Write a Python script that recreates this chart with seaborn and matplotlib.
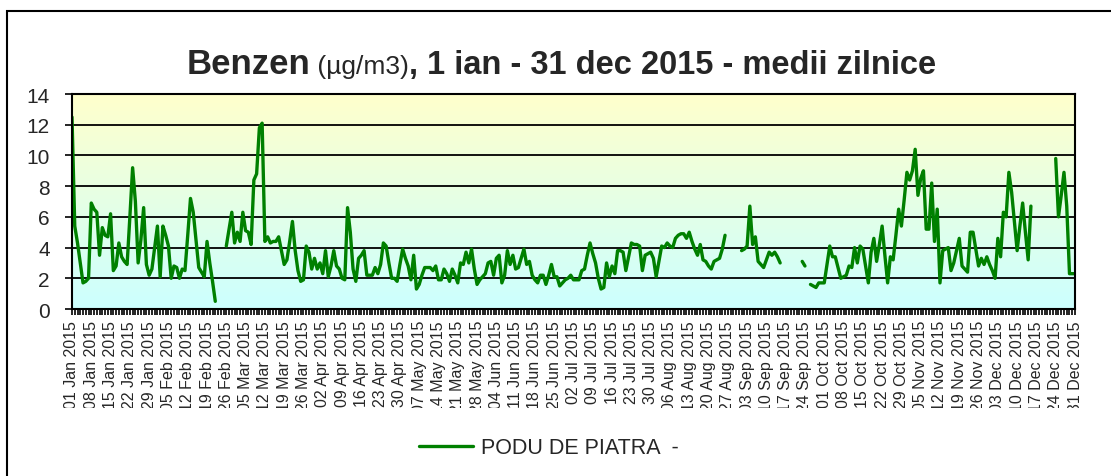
import numpy as np
import pandas as pd
import matplotlib
matplotlib.use("Agg")
import matplotlib.pyplot as plt
import seaborn as sns
from matplotlib.colors import LinearSegmentedColormap
from matplotlib.lines import Line2D
from matplotlib.patches import Rectangle
from matplotlib.transforms import Bbox, TransformedBbox

nan = np.nan

# daily means of benzene (ug/m3), one list per month, gaps = missing days
jan = [12.5, 5.4, 4.3, 3.0, 1.7, 1.8, 2.0, 6.9, 6.5, 6.3,
       3.5, 5.3, 4.8, 4.7, 6.2, 2.5, 2.8, 4.3, 3.4, 3.1,
       2.9, 6.0, 9.2, 7.0, 3.0, 4.5, 6.6, 2.9, 2.2, 2.6, 4.0]
feb = [5.4, 2.1, 5.4, 4.8, 4.1, 2.0, 2.8, 2.7, 2.0, 2.6,
       2.5, 4.8, 7.2, 6.3, 4.5, 2.7, 2.4, 2.1, 4.4, 3.0,
       1.8, 0.5, nan, nan, nan, 4.1, 5.2, 6.3]
mar = [4.3, 5.0, 4.4, 6.3, 5.1, 5.0, 4.2, 8.4, 8.8, 11.8,
       12.1, 4.4, 4.7, 4.3, 4.4, 4.4, 4.7, 3.8, 2.9, 3.2,
       4.4, 5.7, 3.8, 2.5, 1.8, 1.9, 4.1, 3.7, 2.6, 3.3, 2.6]
apr = [3.0, 2.3, 3.8, 2.1, 2.8, 3.8, 2.8, 2.6, 2.0, 1.9,
       6.6, 5.0, 2.6, 1.8, 3.3, 3.5, 3.8, 2.2, 2.2, 2.2,
       2.7, 2.3, 2.9, 4.3, 4.1, 3.0, 2.0, 2.0, 1.8, 2.9]
may = [3.9, 3.3, 2.8, 1.9, 3.5, 1.3, 1.6, 2.2, 2.7, 2.7,
       2.7, 2.5, 2.8, 1.9, 1.9, 2.6, 2.3, 1.8, 2.6, 2.2,
       1.7, 3.0, 2.9, 3.7, 3.0, 3.9, 2.6, 1.6, 1.9, 2.1, 2.3]
jun = [3.0, 3.1, 2.2, 3.3, 3.5, 1.7, 2.2, 3.8, 2.9, 3.5,
       2.6, 2.7, 3.3, 3.9, 2.9, 3.1, 2.2, 1.9, 1.7, 2.2,
       2.2, 1.6, 2.2, 2.9, 2.1, 2.1, 1.5, 1.7, 1.9, 2.0]
jul = [2.2, 1.9, 1.9, 1.9, 2.5, 2.6, 3.5, 4.3, 3.6, 3.0,
       2.0, 1.3, 1.4, 3.0, 2.1, 2.8, 2.3, 3.8, 3.8, 3.7,
       2.5, 3.4, 4.3, 4.2, 4.2, 4.1, 2.5, 3.5, 3.6, 3.7, 3.3]
aug = [2.1, 3.1, 4.1, 4.0, 4.3, 4.1, 4.0, 4.6, 4.8, 4.9,
       4.9, 4.6, 5.0, 4.4, 3.9, 3.5, 4.2, 3.2, 3.1, 2.8,
       2.6, 3.1, 3.2, 3.3, 3.9, 4.8, nan, nan, nan, nan, nan]
sep = [3.8, 3.9, 4.1, 6.7, 4.2, 4.7, 3.1, 2.9, 2.7, 3.2,
       3.7, 3.5, 3.7, 3.4, 3.0, nan, nan, nan, nan, nan,
       nan, nan, 3.1, 2.8, nan, 1.6, 1.5, 1.4, 1.7, 1.7]
oct_ = [1.7, 2.9, 4.1, 3.4, 3.4, 2.7, 2.0, 2.1, 2.2, 2.8,
        2.7, 4.0, 3.0, 4.1, 3.9, 2.8, 1.7, 3.7, 4.6, 3.1,
        4.2, 5.4, 3.5, 1.7, 3.4, 3.2, 4.8, 6.5, 5.4, 7.1, 8.9]
nov = [8.4, 9.0, 10.4, 7.4, 8.5, 9.0, 5.2, 5.2, 8.2, 4.4,
       6.5, 1.7, 3.8, 3.9, 4.0, 2.5, 3.0, 3.8, 4.6, 2.8,
       2.6, 2.4, 5.0, 5.0, 3.9, 2.8, 3.3, 2.9, 3.4, 2.9]
dec = [2.5, 2.0, 4.6, 3.4, 6.3, 6.0, 8.9, 7.6, 5.7, 3.8,
       5.4, 6.9, 5.0, 3.2, 6.7, nan, nan, nan, nan, nan,
       nan, nan, nan, 9.8, 6.0, 7.4, 8.9, 6.7, 2.3, 2.3, 2.3]

station = "PODU DE PIATRA  -"
title_parts = ["Benzen", " (µg/m3)", ", 1 ian - 31 dec 2015 - medii zilnice"]

dates = pd.date_range("2015-01-01", "2015-12-31", freq="D")
values = np.concatenate([jan, feb, mar, apr, may, jun, jul, aug, sep, oct_, nov, dec])

df = pd.DataFrame({"day": np.arange(len(dates)), "value": values})
df["segment"] = df["value"].isna().cumsum()
df = df.dropna()

week_pos = np.arange(0, len(dates), 7)
week_labels = [dates[i].strftime("%d %b %Y") for i in week_pos]

sns.set_theme(style="white")
plt.rcParams["font.family"] = ["Liberation Sans", "DejaVu Sans"]

W, H = 1111, 477
fig = plt.figure(figsize=(W / 100, H / 100), dpi=100)
ax = fig.add_axes([72 / W, 1 - 310 / H, (1075 - 72) / W, (310 - 95) / H])

# yellow -> cyan background of the plot area
cmap = LinearSegmentedColormap.from_list("bg", ["#CCFFFF", "#FFFFCC"])
ax.imshow(np.linspace(0, 1, 256).reshape(-1, 1), cmap=cmap, origin="lower",
          aspect="auto", extent=[0, len(dates) - 1, 0, 14], zorder=-1)

sns.lineplot(data=df, x="day", y="value", units="segment", estimator=None,
             color="#008000", lw=2.4, ax=ax, legend=False)

ax.set_xlim(0, len(dates) - 1)
ax.set_ylim(0, 14)
ax.set_yticks(range(0, 15, 2))
ax.set_xticks(week_pos)
ax.set_xticklabels(week_labels, rotation=90, fontsize=11.5)
ax.set_xticks(np.arange(len(dates)), minor=True)
ax.tick_params(axis="y", labelsize=15, length=5, width=1.2, color="black", pad=11, left=True)
ax.tick_params(axis="x", which="both", length=4, width=1.2, color="black", pad=4, bottom=True, direction="out")
ax.set_xlabel("")
ax.set_ylabel("")
ax.grid(axis="y", color="black", lw=1.3)
ax.grid(axis="x", visible=False)
ax.set_axisbelow(True)
for s in ax.spines.values():
    s.set_color("black")
    s.set_linewidth(1.5)

# labels are cut off at the bottom like in the original
clip = TransformedBbox(Bbox([[0, 1 - 409 / H], [1, 1]]), fig.transFigure)
for lbl in ax.get_xticklabels():
    lbl.set_clip_box(clip)
    lbl.set_clip_on(True)

# title made of bold / normal pieces
renderer = fig.canvas.get_renderer()
styles = [(25, "bold"), (19, "normal"), (23.5, "bold")]
texts, widths = [], []
for txt, (size, weight) in zip(title_parts, styles):
    t = fig.text(0, 1 - 74 / H, txt, fontsize=size, fontweight=weight, va="baseline")
    widths.append(t.get_window_extent(renderer).width)
    texts.append(t)
x = (W - sum(widths)) / 2 + 6
for t, w in zip(texts, widths):
    t.set_x(x / W)
    x += w

handle = Line2D([], [], color="#008000", lw=2.4)
fig.legend([handle], [station], loc="center", bbox_to_anchor=(549 / W, 1 - 449 / H),
           frameon=False, fontsize=15.5, handlelength=2.5, handletextpad=0.35)

fig.add_artist(Rectangle((7 / W, -0.1), 1.2, 1.1 - 12 / H, transform=fig.transFigure,
                         fill=False, ec="black", lw=1.5))

fig.savefig("out.png", dpi=100)
